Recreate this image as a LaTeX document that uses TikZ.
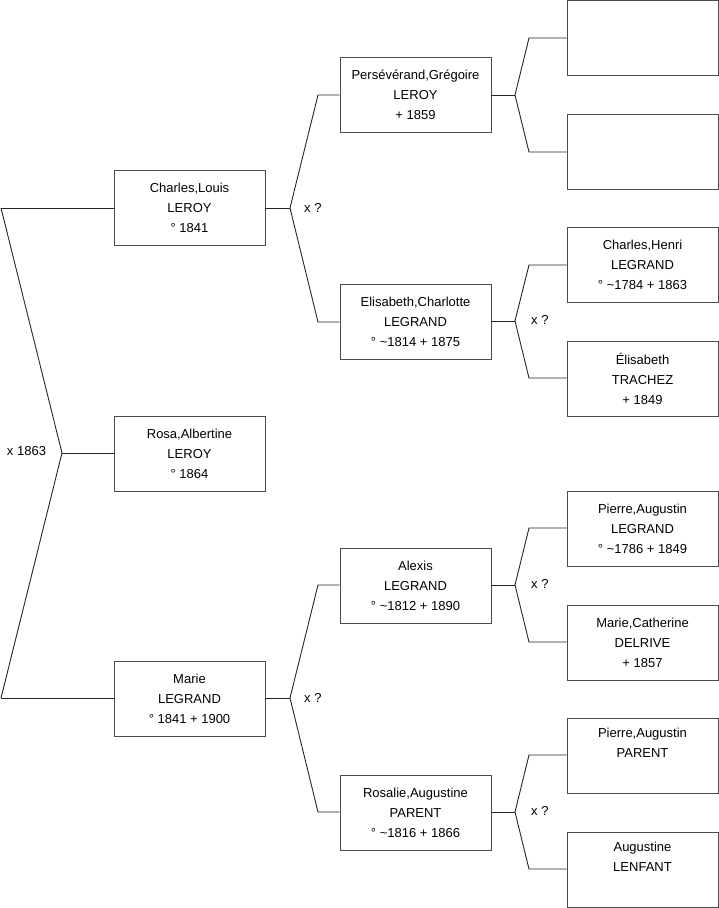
\documentclass[tikz,border=0pt]{standalone}
\usepackage{fontspec}
\setmainfont{Liberation Sans}
\begin{document}
\begin{tikzpicture}[x=1pt,y=-1pt,
  person/.style={draw=black!70,line width=0.9pt,minimum width=151pt,minimum height=75pt,inner sep=0pt,align=center,font=\fontsize{13}{20}\selectfont},
  link/.style={draw=black!85,line width=0.9pt},
  xlabel/.style={font=\fontsize{13}{14}\selectfont,anchor=west,inner sep=0pt}]
\useasboundingbox[fill=white] (0,0) rectangle (719,908);
% left column
\node[person] (charles) at (189.5,207.5) {Charles,Louis\\LEROY\\° 1841};
\node[person] (rosa) at (189.5,453.5) {Rosa,Albertine\\LEROY\\° 1864};
\node[person] (marie) at (189.5,698.5) {Marie\\LEGRAND\\° 1841 + 1900};
% middle column
\node[person] (perse) at (415.5,94.5) {Persévérand,Grégoire\\LEROY\\+ 1859};
\node[person] (elis) at (415.5,321.5) {Elisabeth,Charlotte\\LEGRAND\\° \textasciitilde1814 + 1875};
\node[person] (alexis) at (415.5,585.5) {Alexis\\LEGRAND\\° \textasciitilde1812 + 1890};
\node[person] (rosalie) at (415.5,812.5) {Rosalie,Augustine\\PARENT\\° \textasciitilde1816 + 1866};
% right column
\node[person] (r1) at (642.5,38) {};
\node[person] (r2) at (642.5,151.5) {};
\node[person] (r3) at (642.5,264.5) {Charles,Henri\\LEGRAND\\° \textasciitilde1784 + 1863};
\node[person] (r4) at (642.5,378.5) {Élisabeth\\TRACHEZ\\+ 1849};
\node[person] (r5) at (642.5,528.5) {Pierre,Augustin\\LEGRAND\\° \textasciitilde1786 + 1849};
\node[person] (r6) at (642.5,642.5) {Marie,Catherine\\DELRIVE\\+ 1857};
\node[person] (r7) at (642.5,755.5) {Pierre,Augustin\\PARENT\\\strut};
\node[person] (r8) at (642.5,869.5) {Augustine\\LENFANT\\\strut};
% leftmost fork
\coordinate (c0) at (1,208);
\coordinate (m0) at (1,698);
\coordinate (f0) at (62,453);
\draw[link] (c0) -- (charles.west|-c0);
\draw[link] (m0) -- (marie.west|-m0);
\draw[link] (c0) -- (f0) -- (m0);
\draw[link] (f0) -- (rosa.west|-f0);
\node[font=\fontsize{13}{14}\selectfont,inner sep=0pt] (x0) at (26.5,451) {x 1863};
% Charles fork
\coordinate (f1) at (290,208);
\coordinate (a1) at (318,95);
\coordinate (b1) at (318,322);
\draw[link] (charles.east|-f1) -- (f1);
\draw[link] (perse.west|-a1) -- (a1) -- (f1) -- (b1) -- (elis.west|-b1);
\node[xlabel] (x1) at (304,208) {x ?};
% Marie fork
\coordinate (f2) at (290,698);
\coordinate (a2) at (318,585);
\coordinate (b2) at (318,812);
\draw[link] (marie.east|-f2) -- (f2);
\draw[link] (alexis.west|-a2) -- (a2) -- (f2) -- (b2) -- (rosalie.west|-b2);
\node[xlabel] (x2) at (304,698) {x ?};
% Perse fork
\coordinate (f3) at (515,95);
\coordinate (a3) at (529,38);
\coordinate (b3) at (529,152);
\draw[link] (perse.east|-f3) -- (f3);
\draw[link] (r1.west|-a3) -- (a3) -- (f3) -- (b3) -- (r2.west|-b3);
% Elis fork
\coordinate (f4) at (515,321);
\coordinate (a4) at (529,265);
\coordinate (b4) at (529,378);
\draw[link] (elis.east|-f4) -- (f4);
\draw[link] (r3.west|-a4) -- (a4) -- (f4) -- (b4) -- (r4.west|-b4);
\node[xlabel] (x4) at (531,320) {x ?};
% Alexis fork
\coordinate (f5) at (515,585);
\coordinate (a5) at (529,528);
\coordinate (b5) at (529,642);
\draw[link] (alexis.east|-f5) -- (f5);
\draw[link] (r5.west|-a5) -- (a5) -- (f5) -- (b5) -- (r6.west|-b5);
\node[xlabel] (x5) at (531,584) {x ?};
% Rosalie fork
\coordinate (f6) at (515,812);
\coordinate (a6) at (529,755);
\coordinate (b6) at (529,869);
\draw[link] (rosalie.east|-f6) -- (f6);
\draw[link] (r7.west|-a6) -- (a6) -- (f6) -- (b6) -- (r8.west|-b6);
\node[xlabel] (x6) at (531,811) {x ?};
\end{tikzpicture}
\end{document}
